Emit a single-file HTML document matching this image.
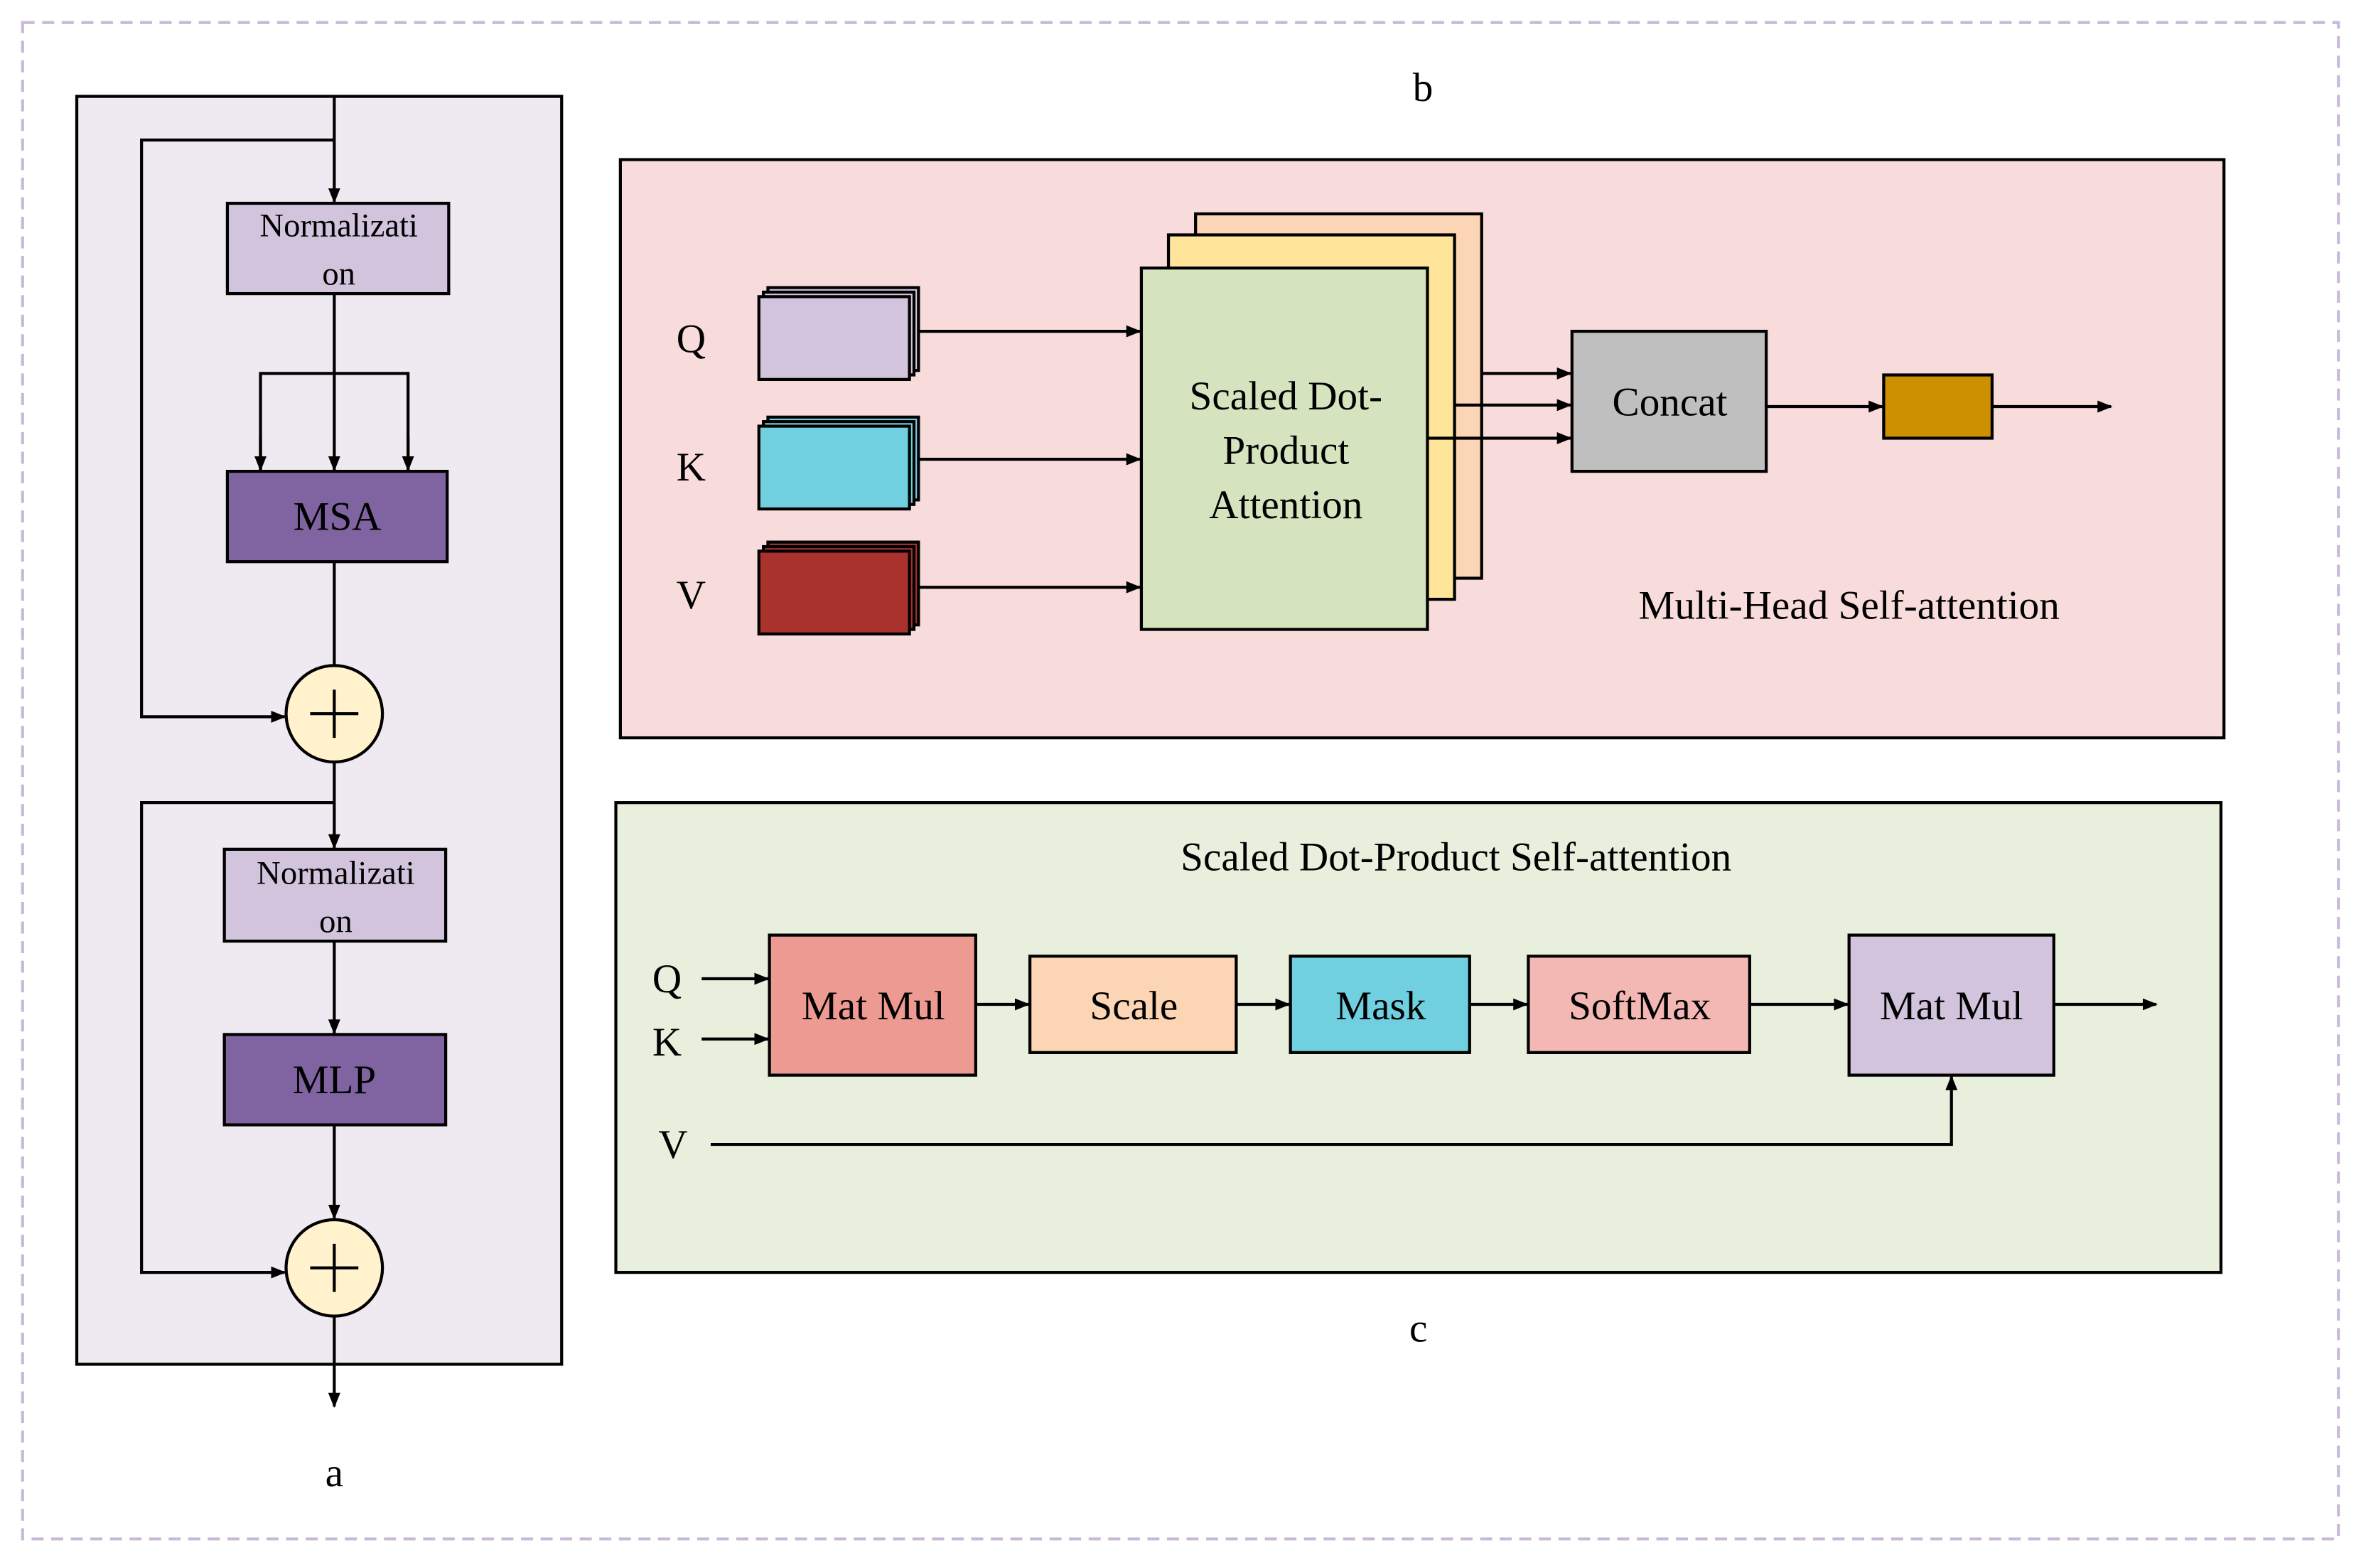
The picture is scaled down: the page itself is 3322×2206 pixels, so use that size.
<!DOCTYPE html>
<html><head><meta charset="utf-8"><style>html,body{margin:0;padding:0;background:#fff}svg{display:block}text{font-family:"Liberation Serif",serif;fill:#000}</style></head><body>
<svg width="3322" height="2206" viewBox="0 0 1568 1041.3" preserveAspectRatio="none" xmlns="http://www.w3.org/2000/svg">
<defs><marker id="ar" markerWidth="10" markerHeight="8" refX="9" refY="4" orient="auto" markerUnits="userSpaceOnUse"><path d="M0,0 L10,4 L0,8 z" fill="#000"/></marker></defs>
<rect x="15" y="15" width="1538" height="1007" fill="#fff" stroke="#c9b9d9" stroke-width="2" stroke-dasharray="8,5"/>
<g stroke="#000" stroke-width="2">
<!-- panel a -->
<rect x="51" y="64" width="322" height="842" fill="#efe9f1"/>
<g fill="none">
<line x1="222" y1="64" x2="222" y2="134" marker-end="url(#ar)"/>
<polyline points="222,93 94,93 94,476 189,476" marker-end="url(#ar)"/>
<line x1="222" y1="195" x2="222" y2="312" marker-end="url(#ar)"/>
<polyline points="173,312 173,248 271,248 271,312"/>
<line x1="173" y1="290" x2="173" y2="312" marker-end="url(#ar)"/>
<line x1="271" y1="290" x2="271" y2="312" marker-end="url(#ar)"/>
<line x1="222" y1="373" x2="222" y2="442"/>
<line x1="222" y1="506" x2="222" y2="563" marker-end="url(#ar)"/>
<polyline points="222,533 94,533 94,845 189,845" marker-end="url(#ar)"/>
<line x1="222" y1="625" x2="222" y2="686" marker-end="url(#ar)"/>
<line x1="222" y1="747" x2="222" y2="809" marker-end="url(#ar)"/>
<line x1="222" y1="874" x2="222" y2="934" marker-end="url(#ar)"/>
</g>
<rect x="151" y="135" width="147" height="60" fill="#d1c4dc"/>
<rect x="151" y="313" width="146" height="60" fill="#8064a2"/>
<circle cx="222" cy="474" r="32" fill="#fff2cc"/>
<line x1="206" y1="474" x2="238" y2="474"/><line x1="222" y1="458" x2="222" y2="490"/>
<rect x="149" y="564" width="147" height="61" fill="#d1c4dc"/>
<rect x="149" y="687" width="147" height="60" fill="#8064a2"/>
<circle cx="222" cy="842" r="32" fill="#fff2cc"/>
<line x1="206" y1="842" x2="238" y2="842"/><line x1="222" y1="826" x2="222" y2="858"/>
<!-- panel b -->
<rect x="412" y="106" width="1065" height="384" fill="#f8dcdb"/>
<rect x="510" y="191" width="100" height="55" fill="#d1c4dc"/><rect x="507" y="194" width="100" height="55" fill="#d1c4dc"/><rect x="504" y="197" width="100" height="55" fill="#d1c4dc"/>
<rect x="510" y="277" width="100" height="55" fill="#70d0e0"/><rect x="507" y="280" width="100" height="55" fill="#70d0e0"/><rect x="504" y="283" width="100" height="55" fill="#70d0e0"/>
<rect x="510" y="360" width="100" height="55" fill="#a9332c"/><rect x="507" y="363" width="100" height="55" fill="#a9332c"/><rect x="504" y="366" width="100" height="55" fill="#a9332c"/>
<g fill="none">
<line x1="610" y1="220" x2="757" y2="220" marker-end="url(#ar)"/>
<line x1="610" y1="305" x2="757" y2="305" marker-end="url(#ar)"/>
<line x1="610" y1="390" x2="757" y2="390" marker-end="url(#ar)"/>
</g>
<rect x="794" y="142" width="190" height="242" fill="#fbd5b5"/>
<rect x="776" y="156" width="190" height="242" fill="#ffe599"/>
<rect x="758" y="178" width="190" height="240" fill="#d5e3bf"/>
<g fill="none">
<line x1="984" y1="248" x2="1043" y2="248" marker-end="url(#ar)"/>
<line x1="966" y1="269" x2="1043" y2="269" marker-end="url(#ar)"/>
<line x1="948" y1="291" x2="1043" y2="291" marker-end="url(#ar)"/>
<line x1="1173" y1="270" x2="1250" y2="270" marker-end="url(#ar)"/>
<line x1="1323" y1="270" x2="1402" y2="270" marker-end="url(#ar)"/>
</g>
<rect x="1044" y="220" width="129" height="93" fill="#bfbfbf"/>
<rect x="1251" y="249" width="72" height="42" fill="#cc9000"/>
<!-- panel c -->
<rect x="409" y="533" width="1066" height="312" fill="#e8efdd"/>
<g fill="none">
<line x1="466" y1="650" x2="510" y2="650" marker-end="url(#ar)"/>
<line x1="466" y1="690" x2="510" y2="690" marker-end="url(#ar)"/>
<line x1="648" y1="667" x2="683" y2="667" marker-end="url(#ar)"/>
<line x1="821" y1="667" x2="856" y2="667" marker-end="url(#ar)"/>
<line x1="976" y1="667" x2="1014" y2="667" marker-end="url(#ar)"/>
<line x1="1162" y1="667" x2="1227" y2="667" marker-end="url(#ar)"/>
<line x1="1364" y1="667" x2="1432" y2="667" marker-end="url(#ar)"/>
<polyline points="472,760 1296,760 1296,715" marker-end="url(#ar)"/>
</g>
<rect x="511" y="621" width="137" height="93" fill="#ec9a92"/>
<rect x="684" y="635" width="137" height="64" fill="#fcd5b5"/>
<rect x="857" y="635" width="119" height="64" fill="#70d0e0"/>
<rect x="1015" y="635" width="147" height="64" fill="#f4b8b4"/>
<rect x="1228" y="621" width="136" height="93" fill="#d1c4dc"/>
</g>
<g text-anchor="middle" font-size="22">
<text x="225" y="157">Normalizati</text><text x="225" y="189">on</text>
<text x="223" y="587">Normalizati</text><text x="223" y="619">on</text>
</g>
<g text-anchor="middle" font-size="27">
<text x="224" y="352">MSA</text>
<text x="222" y="726">MLP</text>
<text x="222" y="987">a</text>
<text x="945" y="67">b</text>
<text x="942" y="891">c</text>
<text x="459" y="234">Q</text><text x="459" y="319">K</text><text x="459" y="404">V</text>
<text x="854" y="272">Scaled Dot-</text><text x="854" y="308">Product</text><text x="854" y="344">Attention</text>
<text x="1109" y="276">Concat</text>
<text x="1228" y="411">Multi-Head Self-attention</text>
<text x="967" y="578">Scaled Dot-Product Self-attention</text>
<text x="443" y="659">Q</text><text x="443" y="701">K</text><text x="447" y="769">V</text>
<text x="580" y="677">Mat Mul</text>
<text x="753" y="677">Scale</text>
<text x="917" y="677">Mask</text>
<text x="1089" y="677">SoftMax</text>
<text x="1296" y="677">Mat Mul</text>
</g>
</svg>
</body></html>
